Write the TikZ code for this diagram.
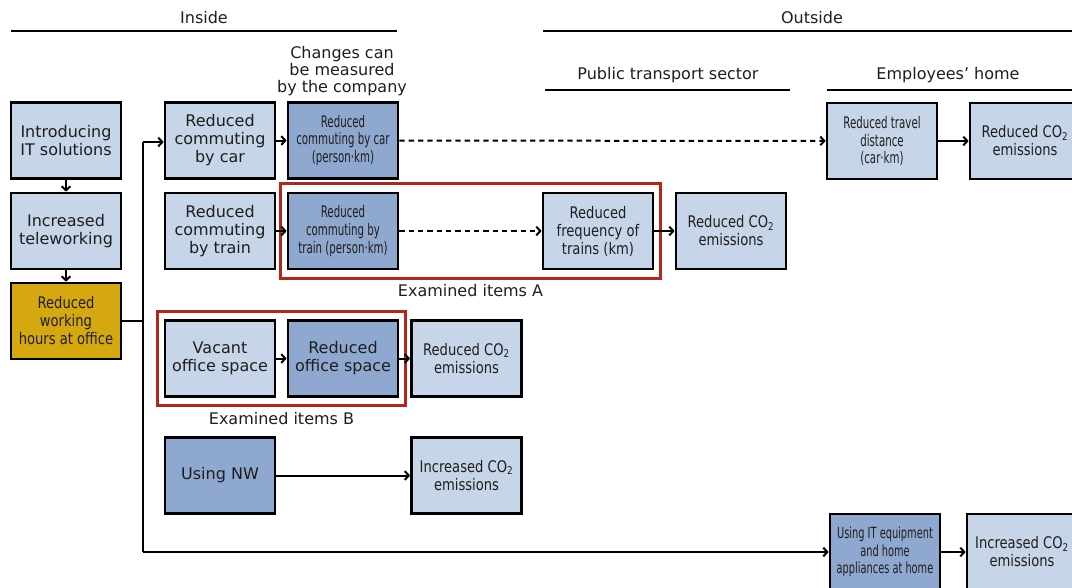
\documentclass[tikz,border=0pt]{standalone}
\usepackage{fontspec}
\setmainfont{DejaVu Sans}
\newfontfamily\condfont{DejaVu Sans}[FakeStretch=0.64]
\newfontfamily\semifont{DejaVu Sans}[FakeStretch=0.82]
\usetikzlibrary{arrows.meta,fit}

\definecolor{boxlight}{HTML}{C6D6E8}
\definecolor{boxdark}{HTML}{8FA8CF}
\definecolor{boxgold}{HTML}{D6A80F}
\definecolor{frame}{HTML}{B5261A}
\definecolor{ink}{HTML}{1E1E1E}

\tikzset{
  box/.style={draw=black,line width=2pt,minimum width=82.5pt,minimum height=57pt,
    inner sep=1pt,align=center,text=ink,font=\fontsize{12}{13.5}\selectfont},
  lightbox/.style={box,fill=boxlight},
  darkbox/.style={box,fill=boxdark},
  goldbox/.style={box,fill=boxgold,font=\semifont\fontsize{12}{13.5}\selectfont},
  small/.style={font=\condfont\fontsize{12}{13.2}\selectfont},
  narrow/.style={font=\semifont\fontsize{12}{13.5}\selectfont},
  link/.style={line width=1.5pt,-{Straight Barb[length=3pt,width=6.5pt]}},
  dashlink/.style={link,dash pattern=on 4pt off 3pt},
  plain/.style={line width=1.5pt},
  redframe/.style={draw=frame,line width=2.2pt,inner xsep=4.5pt,inner ysep=6pt},
  caption/.style={text=ink,font=\fontsize{12}{12.75}\selectfont,align=center},
}

\begin{document}
\begin{tikzpicture}[x=0.75pt,y=-0.75pt]
\useasboundingbox (0,0) rectangle (1072,587);
\clip (0,0) rectangle (1072,587);

% headings
\node[caption] (inside) at (204,18) {Inside};
\node[caption] (outside) at (812,18) {Outside};
\draw[plain] (11,31) -- (397,31);
\draw[plain] (543,31) -- (1072,31);
\node[caption] (company) at (342,71) {Changes can\\be measured\\by the company};
\node[caption] (pubtrans) at (668,75) {Public transport sector};
\node[caption] (emphome) at (948,75) {Employees’ home};
\draw[plain] (545,90) -- (790,90);
\draw[plain] (827,90) -- (1072,90);

% left column
\node[lightbox] (intro) at (66,140.5) {Introducing\\IT solutions};
\node[lightbox] (tele) at (66,231) {Increased\\teleworking};
\node[goldbox] (hours) at (66,321) {Reduced\\working\\hours at office};
\draw[link] (intro) -- (tele);
\draw[link] (tele) -- (hours);

% inside boxes
\node[lightbox] (bycar) at (220,140.5) {Reduced\\commuting\\by car};
\node[lightbox] (bytrain) at (220,231) {Reduced\\commuting\\by train};
\node[lightbox] (vacant) at (220,358.5) {Vacant\\office space};
\node[darkbox] (usingnw) at (220,475.5) {Using NW};
\node[darkbox,small] (carkm) at (343,140.5) {Reduced\\commuting by car\\(person·km)};
\node[darkbox,small] (trainkm) at (343,231) {Reduced\\commuting by\\train (person·km)};
\node[darkbox] (office) at (343,358.5) {Reduced\\office space};
\node[lightbox,narrow] (co2office) at (466.5,358.5) {Reduced CO\textsubscript{2}\\emissions};
\node[lightbox,narrow] (co2nw) at (466.5,475.5) {Increased CO\textsubscript{2}\\emissions};

% outside boxes
\node[lightbox,narrow] (freq) at (598,231) {Reduced\\frequency of\\trains (km)};
\node[lightbox,narrow] (co2train) at (731,231) {Reduced CO\textsubscript{2}\\emissions};
\node[lightbox,small] (travel) at (882,141) {Reduced travel\\distance\\(car·km)};
\node[lightbox,narrow] (co2car) at (1025,141) {Reduced CO\textsubscript{2}\\emissions};
\node[darkbox,small,font=\condfont\fontsize{11.5}{13.2}\selectfont] (athome) at (885,552) {Using IT equipment\\and home\\appliances at home};
\node[lightbox,narrow] (co2home) at (1022,552) {Increased CO\textsubscript{2}\\emissions};

% examined items
\node[redframe,fit=(trainkm)(freq)] (exama) {};
\node[caption,below] at (exama.south) {Examined items A};
\node[redframe,fit=(vacant)(office)] (examb) {};
\node[caption,below] at (examb.south) {Examined items B};

% trunk
\coordinate (jtop) at (143,142);
\coordinate (jbot) at (143,552);
\draw[plain] (hours.east) -- (hours.east -| jtop);
\draw[plain] (jtop) -- (jbot);
\draw[link] (jtop) -- (jtop -| bycar.west);
\draw[link] (jbot) -- (jbot -| athome.west);

% chains
\draw[link] (bycar) -- (carkm);
\draw[dashlink] (carkm) -- (travel);
\draw[link] (travel) -- (co2car);
\draw[link] (bytrain) -- (trainkm);
\draw[dashlink] (trainkm) -- (freq);
\draw[link] (freq) -- (co2train);
\draw[link] (vacant) -- (office);
\draw[link] (office) -- (co2office);
\draw[link] (usingnw) -- (co2nw);
\draw[link] (athome) -- (co2home);
\end{tikzpicture}
\end{document}
